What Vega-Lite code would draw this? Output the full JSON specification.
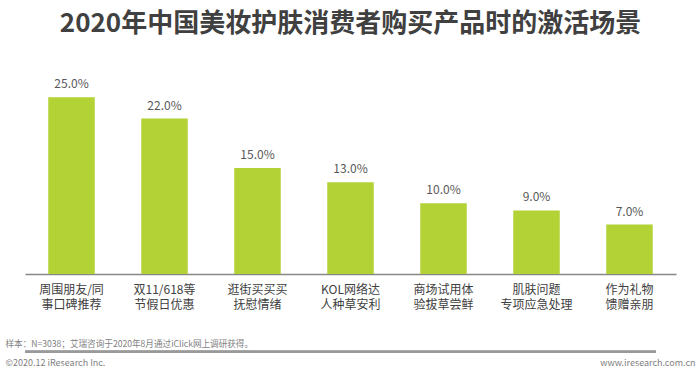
{
  "$schema": "https://vega.github.io/schema/vega-lite/v6.json",
  "autosize": "none",
  "width": 651,
  "height": 212,
  "padding": {"left": 25, "top": 62, "right": 24, "bottom": 101},
  "background": "white",
  "config": {
    "font": "Noto Sans CJK SC",
    "view": {"stroke": null}
  },
  "title": {
    "text": "2020年中国美妆护肤消费者购买产品时的激活场景",
    "fontSize": 26,
    "fontWeight": "bold",
    "color": "#404040",
    "anchor": "middle",
    "offset": 25
  },
  "data": {
    "values": [
      {"scene": "周围朋友/同|事口碑推荐", "share": 0.25},
      {"scene": "双11/618等|节假日优惠", "share": 0.22},
      {"scene": "逛街买买买|抚慰情绪", "share": 0.15},
      {"scene": "KOL网络达|人种草安利", "share": 0.13},
      {"scene": "商场试用体|验拔草尝鲜", "share": 0.10},
      {"scene": "肌肤问题|专项应急处理", "share": 0.09},
      {"scene": "作为礼物|馈赠亲朋", "share": 0.07}
    ]
  },
  "layer": [
    {
      "mark": {"type": "bar", "color": "#b2d235"},
      "encoding": {
        "x": {
          "field": "scene",
          "type": "nominal",
          "sort": null,
          "title": "样本：N=3038；艾瑞咨询于2020年8月通过iClick网上调研获得。",
          "scale": {"paddingInner": 0.5, "paddingOuter": 0.25},
          "axis": {
            "labelAngle": 0,
            "labelExpr": "split(datum.value, '|')",
            "labelFontSize": 12,
            "labelColor": "#404040",
            "labelPadding": 10,
            "labelLineHeight": 15,
            "labelBaseline": "top",
            "ticks": false,
            "domainColor": "#888888",
            "domainWidth": 1.5,
            "titleFontSize": 8.6,
            "titleFontWeight": "normal",
            "titleColor": "#7f7f7f",
            "titleAlign": "left",
            "titleBaseline": "middle",
            "titleX": -20,
            "titleY": 69
          }
        },
        "y": {
          "field": "share",
          "type": "quantitative",
          "scale": {"domain": [0, 0.3], "nice": false},
          "title": "©2020.12 iResearch Inc.",
          "axis": {
            "labels": false,
            "domain": false,
            "grid": false,
            "ticks": false,
            "titleAngle": 0,
            "titleFontSize": 9,
            "titleFontWeight": "normal",
            "titleColor": "#7f7f7f",
            "titleAlign": "left",
            "titleBaseline": "middle",
            "titleX": -20,
            "titleY": 300
          }
        }
      }
    },
    {
      "mark": {"type": "text", "baseline": "alphabetic", "dy": -9, "fontSize": 12, "color": "#595959"},
      "encoding": {
        "x": {
          "field": "scene",
          "type": "nominal",
          "sort": null,
          "title": "样本：N=3038；艾瑞咨询于2020年8月通过iClick网上调研获得。"
        },
        "y": {
          "field": "share",
          "type": "quantitative",
          "title": "www.iresearch.com.cn",
          "axis": {
            "orient": "right",
            "labels": false,
            "domain": false,
            "grid": false,
            "ticks": false,
            "titleAngle": 0,
            "titleFontSize": 9,
            "titleFontWeight": "normal",
            "titleColor": "#7f7f7f",
            "titleAlign": "right",
            "titleBaseline": "middle",
            "titleX": 19,
            "titleY": 300
          }
        },
        "text": {"field": "share", "type": "quantitative", "format": ".1%"}
      }
    },
    {
      "mark": {"type": "rule", "color": "#9a9a9a", "strokeWidth": 2, "xOffset": -20, "x2Offset": 19},
      "encoding": {
        "y": {"datum": -0.11, "type": "quantitative", "axis": null}
      }
    }
  ],
  "resolve": {"axis": {"y": "independent"}}
}
